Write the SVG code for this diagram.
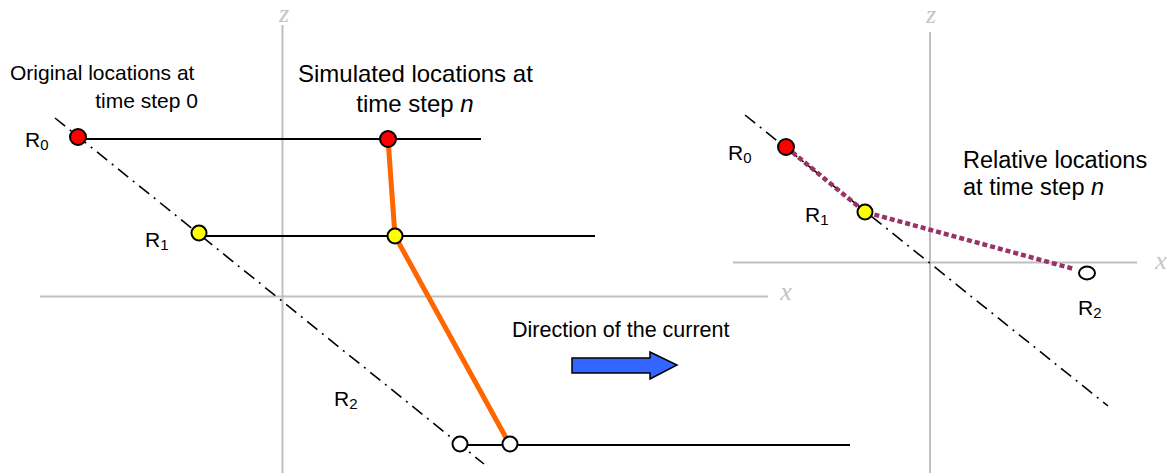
<svg xmlns="http://www.w3.org/2000/svg" width="1173" height="473" viewBox="0 0 1173 473">
<style>
.axis{stroke:#c0c0c0;stroke-width:2;fill:none}
.axl{font-family:"Liberation Serif",serif;font-style:italic;font-size:26px;fill:#c4c4c4}
.dd{stroke:#000;stroke-width:1.6;fill:none;stroke-dasharray:13 6 2 6}
.hl{stroke:#000;stroke-width:2;fill:none}
.t{font-family:"Liberation Sans",Arial,sans-serif;fill:#000}
.red{fill:#ff0000;stroke:#000;stroke-width:2}
.yel{fill:#ffff00;stroke:#000;stroke-width:2}
.wht{fill:#fff;stroke:#000;stroke-width:2}
</style>
<rect width="1173" height="473" fill="#fff"/>
<g id="axes">
<line class="axis" x1="282.5" y1="25" x2="282.5" y2="473"/>
<line class="axis" x1="40" y1="296.5" x2="768" y2="296.5"/>
<text class="axl" x="284" y="22" text-anchor="middle">z</text>
<text class="axl" x="786" y="300" text-anchor="middle">x</text>
<line class="axis" x1="930" y1="32" x2="930" y2="473"/>
<line class="axis" x1="733" y1="262.5" x2="1137" y2="262.5"/>
<text class="axl" x="931" y="23" text-anchor="middle">z</text>
<text class="axl" x="1161" y="269" text-anchor="middle">x</text>
</g>
<g id="connectors">
<line class="dd" x1="55" y1="118" x2="484" y2="464"/>
<line class="hl" x1="78" y1="139" x2="481" y2="139"/>
<line class="hl" x1="199" y1="236" x2="595" y2="236"/>
<line class="hl" x1="460" y1="445" x2="850" y2="445"/>
<polyline points="388,139 395,236 510,445" fill="none" stroke="#ff6600" stroke-width="5" stroke-linejoin="round"/>
<line class="dd" x1="745" y1="115" x2="1108" y2="406"/>
<polyline points="786,147 865,212 1074,269" fill="none" stroke="#993366" stroke-width="4.5" stroke-dasharray="5 3"/>
<path id="current-arrow" d="M572,358 L650,358 L650,352 L677,365 L650,379 L650,373 L572,373 Z" fill="#3366ff" stroke="#000" stroke-width="1.5"/>
</g>
<g id="node-r0-orig"><circle class="red" cx="78" cy="137" r="8"/></g>
<g id="node-r1-orig"><circle class="yel" cx="199" cy="233" r="7.5"/></g>
<g id="node-r2-orig"><circle class="wht" cx="460" cy="444" r="7.5"/></g>
<g id="node-r0-sim"><circle class="red" cx="388" cy="139" r="8"/></g>
<g id="node-r1-sim"><circle class="yel" cx="395" cy="236" r="7.5"/></g>
<g id="node-r2-sim"><circle class="wht" cx="510" cy="444" r="7.5"/></g>
<g id="node-r0-rel"><circle class="red" cx="786" cy="147" r="8"/></g>
<g id="node-r1-rel"><circle class="yel" cx="865" cy="212" r="7.5"/></g>
<g id="node-r2-rel"><ellipse class="wht" cx="1087" cy="273" rx="8" ry="6.5"/></g>
<g id="labels">
<text class="t" x="10" y="80" font-size="21">Original locations at</text>
<text class="t" x="198" y="108" font-size="21" text-anchor="end">time step 0</text>
<text class="t" x="298" y="82" font-size="24">Simulated locations at</text>
<text class="t" x="415" y="112" font-size="24" text-anchor="middle">time step <tspan font-style="italic">n</tspan></text>
<text class="t" x="512" y="337" font-size="21.5">Direction of the current</text>
<text class="t" x="963" y="168" font-size="23.5">Relative locations</text>
<text class="t" x="963" y="195" font-size="23.5">at time step <tspan font-style="italic">n</tspan></text>
<text class="t" x="25" y="147" font-size="21">R<tspan font-size="15" dy="3">0</tspan></text>
<text class="t" x="145" y="247" font-size="21">R<tspan font-size="15" dy="3">1</tspan></text>
<text class="t" x="334" y="406" font-size="21">R<tspan font-size="15" dy="3">2</tspan></text>
<text class="t" x="728" y="160" font-size="21">R<tspan font-size="15" dy="3">0</tspan></text>
<text class="t" x="805" y="222" font-size="21">R<tspan font-size="15" dy="3">1</tspan></text>
<text class="t" x="1078" y="315" font-size="21">R<tspan font-size="15" dy="3">2</tspan></text>
</g>
</svg>
